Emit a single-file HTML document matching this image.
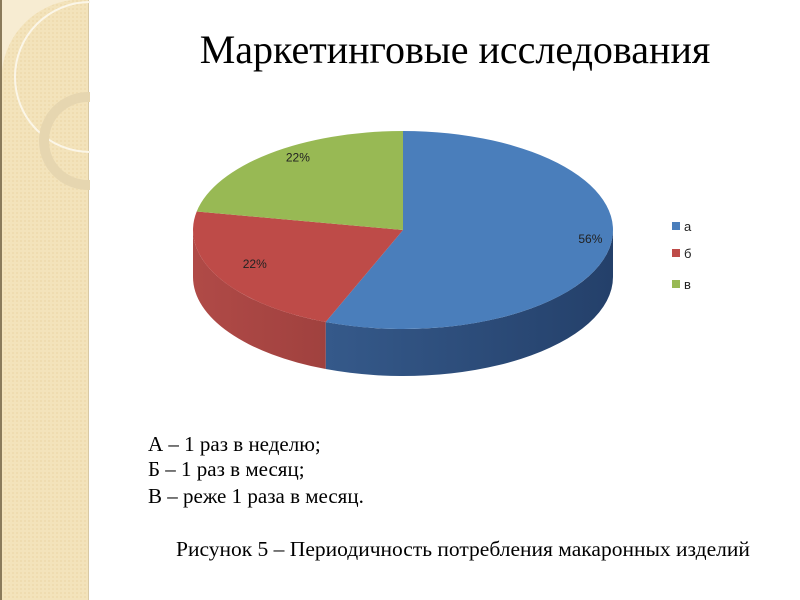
<!DOCTYPE html>
<html><head><meta charset="utf-8"><style>
body{margin:0;width:800px;height:600px;background:#fff;position:relative;overflow:hidden;font-family:"Liberation Serif",serif}
.t{position:absolute;color:#000;white-space:nowrap}
</style></head><body>
<svg width="90" height="600" style="position:absolute;left:0;top:0">
<defs><pattern id="p" width="4" height="4" patternUnits="userSpaceOnUse"><rect width="4" height="4" fill="#f3e3bb"/><rect width="2" height="2" fill="#efdcb0"/></pattern></defs>
<rect x="0" y="0" width="89" height="600" fill="url(#p)"/>
<rect x="0" y="0" width="2" height="600" fill="#8a7a5a"/>
<rect x="88" y="0" width="1" height="600" fill="#d8c9a5"/>
<path d="M2,70 A80,80 0 0 1 72,0 L2,0Z" fill="#f7ecd2"/>
<circle cx="90" cy="77" r="75" fill="none" stroke="#fbf6e8" stroke-width="2"/>
<circle cx="88" cy="141" r="44" fill="none" stroke="#e6d6b0" stroke-width="10"/>
</svg>
<div class="t" style="left:0;width:910px;text-align:center;top:26px;font-size:40px">Маркетинговые исследования</div>
<svg id="chart" width="800" height="600" style="position:absolute;left:0;top:0"></svg>
<div class="t" style="left:148px;top:432px;font-size:21px">А – 1 раз в неделю;</div>
<div class="t" style="left:148px;top:457px;font-size:21px">Б – 1 раз в месяц;</div>
<div class="t" style="left:148px;top:484px;font-size:21px">В – реже 1 раза в месяц.</div>
<div class="t" style="left:176px;top:537px;font-size:21.5px">Рисунок 5 – Периодичность потребления макаронных изделий</div>
<script>
const categories=["а","б","в"];
const values=[56,22,22];
const colors=["#4a7ebb","#be4b48","#98b954"];
const dark=["#24406a","#7d2e2c","#5e7530"];
const svg=document.getElementById('chart');
const NS="http://www.w3.org/2000/svg";
const cx=403,cy=230,rx=210,ry=99,depth=47;
function pt(a,dy){return [cx+rx*Math.cos(a),cy+ry*Math.sin(a)+(dy||0)];}
function mk(tag,attrs){const e=document.createElementNS(NS,tag);for(const k in attrs)e.setAttribute(k,attrs[k]);svg.appendChild(e);return e;}
const defs=mk('defs',{});
const total=values.reduce((a,b)=>a+b,0);
let ang=-Math.PI/2;const slices=[];
values.forEach((v,i)=>{const a0=ang,a1=ang+v/total*2*Math.PI;slices.push([a0,a1]);ang=a1;});
slices.forEach(([a0,a1],i)=>{
  const s=Math.max(a0,0),e=Math.min(a1,Math.PI);
  if(e<=s)return;
  const g=document.createElementNS(NS,'linearGradient');g.setAttribute('id','g'+i);
  g.setAttribute('gradientUnits','userSpaceOnUse');g.setAttribute('x1',cx-rx);g.setAttribute('x2',cx+rx);g.setAttribute('y1',0);g.setAttribute('y2',0);
  g.innerHTML=i==0?`<stop offset="0" stop-color="#3d6599"/><stop offset="1" stop-color="${dark[i]}"/>`:`<stop offset="0" stop-color="#b04a47"/><stop offset="1" stop-color="${dark[i]}"/>`;
  defs.appendChild(g);
  const p0=pt(s),p1=pt(e);
  const d=`M${p0[0]},${p0[1]} A${rx},${ry} 0 0 1 ${p1[0]},${p1[1]} L${p1[0]},${p1[1]+depth} A${rx},${ry} 0 0 0 ${p0[0]},${p0[1]+depth}Z`;
  const el=mk('path',{d,fill:'url(#g'+i+')'});
  
  
});
slices.forEach(([a0,a1],i)=>{
  const p0=pt(a0),p1=pt(a1);const large=(a1-a0)>Math.PI?1:0;
  const el=mk('path',{d:`M${cx},${cy} L${p0[0]},${p0[1]} A${rx},${ry} 0 ${large} 1 ${p1[0]},${p1[1]}Z`,fill:colors[i]});
  
  
  const m=(a0+a1)/2;const lp=[cx+rx*0.86*Math.cos(m),cy+ry*0.86*Math.sin(m)];
  const t=mk('text',{x:lp[0]+10,y:lp[1]-3,'font-family':'Liberation Sans, sans-serif','font-size':12,'fill':'#222','text-anchor':'middle'});
  t.textContent=values[i]+'%';
  
  
});
categories.forEach((c,i)=>{
  const y=[222,249,280][i];
  const r=mk('rect',{x:672,y:y,width:8,height:8,fill:colors[i]});
  
  
  const t=mk('text',{x:684,y:y+9,'font-family':'Liberation Sans, sans-serif','font-size':13,fill:'#222'});
  t.textContent=c;
  
  
});
</script>
</body></html>
